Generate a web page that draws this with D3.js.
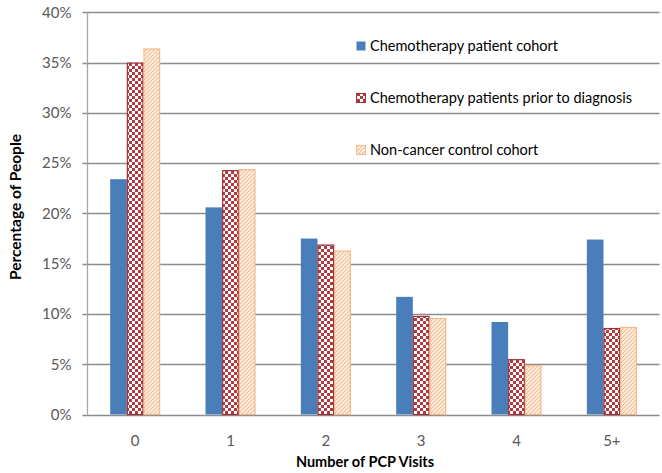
<!DOCTYPE html>
<html><head><meta charset="utf-8">
<script src="https://cdn.jsdelivr.net/npm/d3@7"></script>
<style>body{margin:0;background:#fff}svg{display:block}</style>
</head><body>
<svg id="c" width="662" height="473"></svg>
<script>
const categories = ["0","1","2","3","4","5+"];
const seriesNames = ["Chemotherapy patient cohort","Chemotherapy patients prior to diagnosis","Non-cancer control cohort"];
const chemoCohort = [23.4, 20.6, 17.5, 11.7, 9.2, 17.4];
const chemoPrior = [35.0, 24.3, 16.9, 9.8, 5.5, 8.6];
const nonCancer = [36.4, 24.4, 16.3, 9.6, 4.9, 8.7];
const yTicks = [0,5,10,15,20,25,30,35,40];

const series = [chemoCohort, chemoPrior, nonCancer];
const svg = d3.select("#c");
const defs = svg.append("defs");
const chk = defs.append("pattern").attr("id","chk").attr("patternUnits","userSpaceOnUse").attr("width",6).attr("height",6);
chk.append("rect").attr("width",6).attr("height",6).attr("fill","#fff");
chk.append("rect").attr("width",3).attr("height",3).attr("fill","#B03A3E");
chk.append("rect").attr("x",3).attr("y",3).attr("width",3).attr("height",3).attr("fill","#B03A3E");
const hat = defs.append("pattern").attr("id","hat").attr("patternUnits","userSpaceOnUse").attr("width",4).attr("height",4);
hat.append("rect").attr("width",4).attr("height",4).attr("fill","#FDF1E6");
hat.append("path").attr("d","M-1,5 L5,-1 M-1,1 L1,-1 M3,5 L5,3").attr("stroke","#F2BE90").attr("stroke-width",1.1);

const fills = ["#4A7EBB","url(#chk)","url(#hat)"];
const strokes = ["none","#A0303A","#F5B98A"];

const L = 87.5, R = 659.5, T = 12.3, B = 414.5;
const x0 = d3.scaleBand().domain(categories).range([L, R]).padding(0);
const y = d3.scaleLinear().domain([0,40]).range([B, T]);
const groupW = 50;
const x1 = d3.scaleBand().domain([0,1,2]).range([0, groupW]).padding(0);

svg.append("g").selectAll("line").data(yTicks).join("line")
  .attr("x1", L-5).attr("x2", R).attr("y1", d=>Math.round(y(d))+0.5).attr("y2", d=>Math.round(y(d))+0.5)
  .attr("stroke","#8C8C8C").attr("stroke-width",1.3);
svg.append("line").attr("x1",L).attr("x2",L).attr("y1",T).attr("y2",B).attr("stroke","#A6A6A6").attr("stroke-width",1.3);

const yAxis = d3.axisLeft(y).tickValues(yTicks).tickFormat(d=>d+"%").tickSize(0).tickPadding(16);
const ya = svg.append("g").attr("transform",`translate(${L},0)`).call(yAxis);
ya.select(".domain").remove();
ya.selectAll("text").attr("font-family","Lato, 'Open Sans', sans-serif").attr("font-size",15).attr("fill","#595959");

categories.forEach((c,i)=>{
  const gx = x0(c) + (x0.bandwidth()-groupW)/2;
  series.forEach((s,k)=>{
    svg.append("rect")
      .attr("x", gx + x1(k) + (k>0?0.5:0)).attr("y", y(s[i]) + (k>0?0.5:0))
      .attr("width", x1.bandwidth() - (k>0?1:0)).attr("height", B - y(s[i]) - (k>0?0.5:0))
      .attr("fill", fills[k]).attr("stroke", strokes[k]).attr("stroke-width", k>0?1.2:0);
  });
});

const xAxis = d3.axisBottom(x0).tickSize(0).tickPadding(21);
const xa = svg.append("g").attr("transform",`translate(0,${B})`).call(xAxis);
xa.select(".domain").remove();
xa.selectAll("text").attr("font-family","Lato, 'Open Sans', sans-serif").attr("font-size",15).attr("fill","#595959");

svg.append("text").attr("x", 365).attr("y", 467).attr("text-anchor","middle")
  .attr("font-family","Lato, 'Open Sans', sans-serif").attr("font-weight","bold").attr("font-size",14.5).attr("fill","#000")
  .text("Number of PCP Visits");
svg.append("text").attr("transform","translate(21,207) rotate(-90)").attr("text-anchor","middle")
  .attr("font-family","Lato, 'Open Sans', sans-serif").attr("font-weight","bold").attr("font-size",15.5).attr("fill","#000")
  .text("Percentage of People");

const legY = [46, 98, 150];
seriesNames.forEach((n,k)=>{
  svg.append("rect").attr("x",356.5).attr("y",legY[k]-4.5).attr("width",9).attr("height",9)
    .attr("fill",fills[k]).attr("stroke",strokes[k]).attr("stroke-width",k>0?1:0);
  svg.append("text").attr("x",370).attr("y",legY[k]).attr("dy","0.35em")
    .attr("font-family","Lato, 'Open Sans', sans-serif").attr("font-size",14.5).attr("fill","#000").text(n);
});
</script>
</body></html>
